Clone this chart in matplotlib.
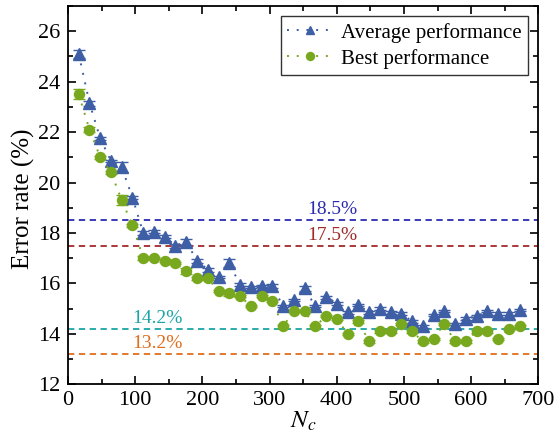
import matplotlib
matplotlib.use("Agg")
import matplotlib.pyplot as plt
import numpy as np
from matplotlib.ticker import MultipleLocator

plt.rcParams['font.family'] = ['Liberation Serif', 'DejaVu Serif']
plt.rcParams['mathtext.fontset'] = 'stix'

# Number of clusters
n_c = [16 * k for k in range(1, 43)]

avg_err = [25.1, 23.15, 21.75, 20.85, 20.6, 19.4, 18.0, 18.05, 17.85, 17.5,
           17.65, 16.9, 16.55, 16.25, 16.8, 15.95, 15.85, 15.9, 15.9, 15.1,
           15.35, 15.8, 15.1, 15.45, 15.2, 14.85, 15.15, 14.85, 15.0, 14.85,
           14.8, 14.5, 14.3, 14.75, 14.9, 14.4, 14.6, 14.7, 14.9, 14.8,
           14.8, 14.95]
avg_sd = [0.15, 0.1, 0.05, 0.05, 0.2, 0.05, 0.08, 0.05, 0.05, 0.08,
          0.12, 0.08, 0.08, 0.05, 0.15, 0.05, 0.05, 0.05, 0.08, 0.05,
          0.05, 0.1, 0.05, 0.05, 0.05, 0.05, 0.05, 0.05, 0.05, 0.05,
          0.05, 0.05, 0.05, 0.05, 0.05, 0.05, 0.05, 0.05, 0.05, 0.05,
          0.05, 0.05]

best_err = [23.5, 22.1, 21.0, 20.4, 19.3, 18.3, 17.0, 17.0, 16.9, 16.8,
            16.5, 16.2, 16.2, 15.7, 15.6, 15.5, 15.1, 15.5, 15.3, 14.3,
            14.9, 14.9, 14.3, 14.7, 14.6, 14.0, 14.5, 13.7, 14.1, 14.1,
            14.4, 14.1, 13.7, 13.8, 14.4, 13.7, 13.7, 14.1, 14.1, 13.8,
            14.2, 14.3]
best_sd = [0.2, 0.1, 0.05, 0.05, 0.2, 0.05, 0.08, 0.05, 0.05, 0.05,
           0.12, 0.05, 0.05, 0.05, 0.1, 0.05, 0.05, 0.05, 0.05, 0.05,
           0.05, 0.05, 0.05, 0.05, 0.05, 0.05, 0.05, 0.05, 0.05, 0.05,
           0.05, 0.05, 0.05, 0.05, 0.05, 0.05, 0.05, 0.05, 0.05, 0.05,
           0.05, 0.05]

ref_values = [18.5, 17.5, 14.2, 13.2]
ref_labels = ['18.5%', '17.5%', '14.2%', '13.2%']
ref_colors = ['#2b2bb0', '#a12a2a', '#1aa5a5', '#de6e1c']
ref_label_x = [393, 393, 133, 133]

blue = '#3e5ea6'
green = '#78a81e'

fig = plt.figure(figsize=(5.55, 4.41), dpi=100)
ax = fig.add_axes([0.1225, 0.1286, 0.8475, 0.8578])

for v, lab, c, lx in zip(ref_values, ref_labels, ref_colors, ref_label_x):
    ax.axhline(v, color=c, lw=1.3, ls=(0, (3.5, 2.5)), zorder=1)
    ax.text(lx, v + 0.08, lab, color=c, fontsize=14, ha='center', va='bottom')

ax.errorbar(n_c, avg_err, yerr=avg_sd, color=blue, marker='^', ms=8,
            ls=(0, (1, 4)), lw=1.4, capsize=4, elinewidth=1, capthick=1,
            label='Average performance', zorder=3)
ax.errorbar(n_c, best_err, yerr=best_sd, color=green, marker='o', ms=7.2,
            ls=(0, (1, 4)), lw=1.4, capsize=4, elinewidth=1, capthick=1,
            label='Best performance', zorder=3)

ax.set_xlim(0, 700)
ax.set_ylim(12, 27)
ax.xaxis.set_major_locator(MultipleLocator(100))
ax.xaxis.set_minor_locator(MultipleLocator(50))
ax.yaxis.set_minor_locator(MultipleLocator(1))
ax.set_yticks(np.arange(12, 27, 2))
ax.tick_params(which='both', direction='in', top=True, right=True,
               labelsize=16, width=1.2)
ax.tick_params(axis='y', which='major', pad=5.5)
ax.tick_params(axis='x', which='major', pad=4.5)
ax.tick_params(which='major', length=6)
ax.tick_params(which='minor', length=3.5)
for s in ax.spines.values():
    s.set_linewidth(1.3)

ax.set_xlabel('$N_c$', fontsize=18, labelpad=0)
ax.set_ylabel('Error rate (%)', fontsize=18, labelpad=2)
ax.yaxis.set_label_coords(-0.07, 0.49)

handles, labels = ax.get_legend_handles_labels()
handles = [h[0] for h in handles]
leg = ax.legend(handles, labels, loc='upper right', fontsize=15,
                frameon=True, fancybox=False, edgecolor='black',
                borderaxespad=0.5, handlelength=2.2, handletextpad=0.4,
                borderpad=0.3, labelspacing=0.3, markerscale=0.8)
leg.get_frame().set_linewidth(1.0)

fig.savefig('out.png', dpi=100)
